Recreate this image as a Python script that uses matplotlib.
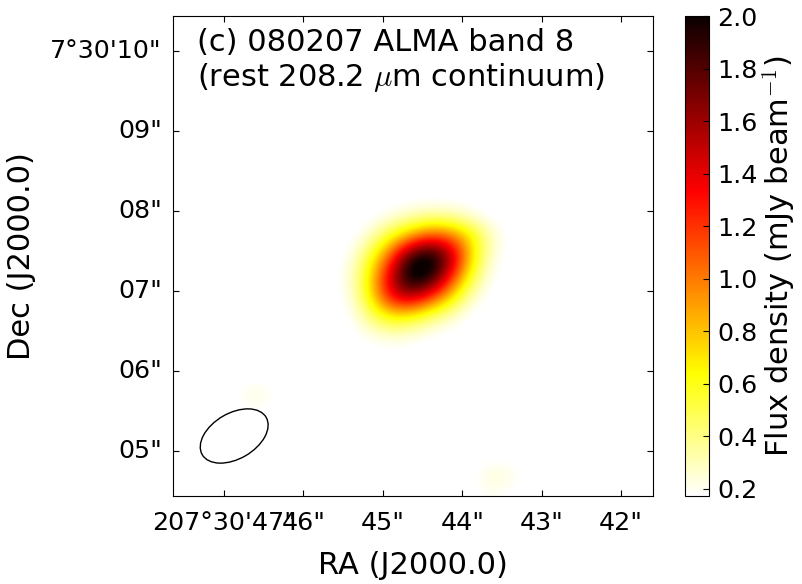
import numpy as np
import matplotlib
matplotlib.use("Agg")
import matplotlib.pyplot as plt
from matplotlib.patches import Ellipse

plt.rcParams['mathtext.fontset'] = 'cm'
plt.rcParams['font.family'] = 'DejaVu Sans'

# map sampled every 0.25 arcsec, RA seconds of arc and Dec seconds of arc
ra_nodes = [45.64, 45.39, 45.14, 44.89, 44.64, 44.39, 44.14, 43.89, 43.64, 43.39]
dec_nodes = [7.94, 7.69, 7.44, 7.19, 6.94, 6.69, 6.44, 6.19]
source_flux = [
    [0.15, 0.15, 0.15, 0.20, 0.27, 0.32, 0.30, 0.22, 0.15, 0.15],
    [0.15, 0.15, 0.28, 0.58, 0.88, 1.15, 1.05, 0.70, 0.30, 0.15],
    [0.15, 0.20, 0.56, 1.15, 1.95, 2.15, 1.62, 0.76, 0.24, 0.15],
    [0.15, 0.24, 0.74, 1.50, 2.20, 2.05, 1.30, 0.56, 0.18, 0.15],
    [0.15, 0.22, 0.72, 1.42, 1.60, 1.25, 0.76, 0.28, 0.15, 0.15],
    [0.15, 0.17, 0.44, 0.68, 0.62, 0.42, 0.26, 0.15, 0.15, 0.15],
    [0.15, 0.15, 0.20, 0.24, 0.21, 0.16, 0.15, 0.15, 0.15, 0.15],
    [0.15, 0.15, 0.15, 0.15, 0.15, 0.15, 0.15, 0.15, 0.15, 0.15],
]
# faint spots outside the main source
spot_ra = [46.64, 46.39, 46.14, 45.89, 43.39, 43.64, 43.64]
spot_dec = [5.69, 5.69, 6.69, 7.19, 4.69, 4.69, 4.44]
spot_flux = [0.27, 0.20, 0.20, 0.20, 0.24, 0.27, 0.20]

ra_ticks = [47, 46, 45, 44, 43, 42]
ra_labels = ['207°30\'47"', '46"', '45"', '44"', '43"', '42"']
dec_ticks = [10, 9, 8, 7, 6, 5]
dec_labels = ['7°30\'10"', '09"', '08"', '07"', '06"', '05"']
cbar_ticks = [0.2, 0.4, 0.6, 0.8, 1.0, 1.2, 1.4, 1.6, 1.8, 2.0]

# fill the full map grid
ra_left, ra_right = 47.64, 41.60
dec_bottom, dec_top = 4.44, 10.44
step = 0.25
ra_grid = np.arange(25) * -step + ra_left
dec_grid = np.arange(25) * -step + dec_top
flux = np.full((25, 25), 0.15)
for r, d in enumerate(dec_nodes):
    for c, a in enumerate(ra_nodes):
        flux[np.abs(dec_grid - d).argmin(), np.abs(ra_grid - a).argmin()] = source_flux[r][c]
for a, d, f in zip(spot_ra, spot_dec, spot_flux):
    flux[np.abs(dec_grid - d).argmin(), np.abs(ra_grid - a).argmin()] = f

fig = plt.figure(figsize=(8.02, 5.84), dpi=100)
ax = fig.add_axes([173 / 802, 1 - 496 / 584, 480 / 802, 480 / 584])
cax = fig.add_axes([685 / 802, 1 - 496 / 584, 24 / 802, 480 / 584])

im = ax.imshow(flux, cmap='hot_r', vmin=0.173, vmax=2.0, interpolation='bicubic', aspect='auto',
               extent=[ra_left + step / 2, ra_grid[-1] - step / 2, dec_grid[-1] - step / 2, dec_top + step / 2])
ax.set_xlim(ra_left, ra_right)
ax.set_ylim(dec_bottom, dec_top)

ax.set_xticks(ra_ticks)
ax.set_xticklabels(ra_labels)
ax.set_yticks(dec_ticks)
ax.set_yticklabels(dec_labels, va='center')
ax.tick_params(direction='in', top=True, right=True, length=4, labelsize=18.3)
ax.tick_params(axis='x', pad=11)
ax.tick_params(axis='y', pad=8)
ax.set_xlabel('RA (J2000.0)', fontsize=22, labelpad=11)
ax.set_ylabel('Dec (J2000.0)', fontsize=22, labelpad=10)

ax.text(0.05, 0.975, '(c) 080207 ALMA band 8\n(rest 208.2 $\\mu$m continuum)', transform=ax.transAxes,
        fontsize=22, va='top', ha='left', linespacing=1.15)

ax.add_patch(Ellipse((46.87, 5.19), 0.93, 0.57, angle=-30, fill=False, edgecolor='k', linewidth=1))

cb = fig.colorbar(im, cax=cax, ticks=cbar_ticks)
cb.ax.tick_params(direction='in', length=4, labelsize=18.3, pad=6, color='k')
cb.set_label('Flux density (mJy beam$^{-1}$)', fontsize=22, labelpad=2)

fig.savefig('out.png', dpi=100)
